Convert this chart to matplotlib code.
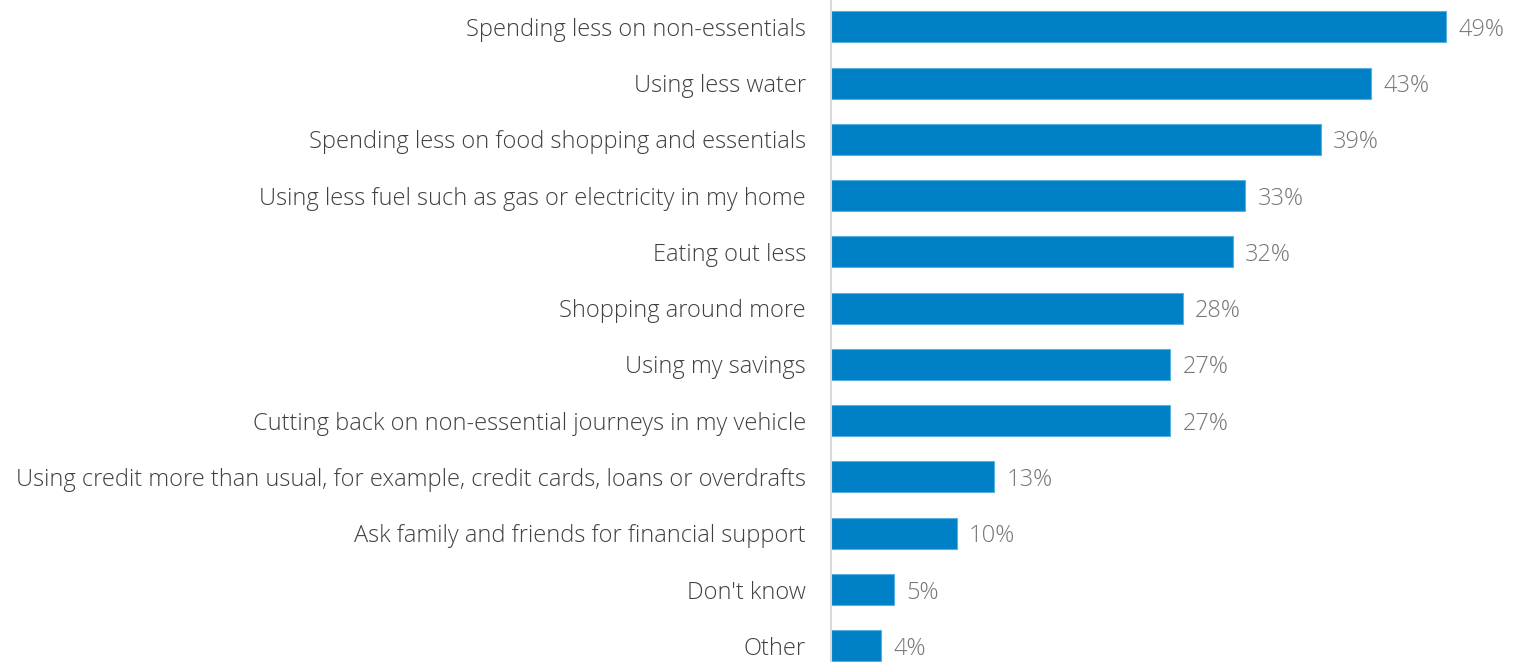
import matplotlib.pyplot as plt

plt.rcParams["font.family"] = ["Open Sans", "DejaVu Sans"]

categories = [
    "Spending less on non-essentials",
    "Using less water",
    "Spending less on food shopping and essentials",
    "Using less fuel such as gas or electricity in my home",
    "Eating out less",
    "Shopping around more",
    "Using my savings",
    "Cutting back on non-essential journeys in my vehicle",
    "Using credit more than usual, for example, credit cards, loans or overdrafts",
    "Ask family and friends for financial support",
    "Don't know",
    "Other",
]
values = [49, 43, 39, 33, 32, 28, 27, 27, 13, 10, 5, 4]

fig = plt.figure(figsize=(15.13, 6.62), dpi=100)
ax = fig.add_axes([831 / 1513, -0.018, 678 / 1513, 1.02])

pos = range(len(categories))
bars = ax.barh(pos, values, height=0.55, color="#0080C6",
               edgecolor="#5aaee0", linewidth=0.8)

# percentage labels just past the end of each bar
for b, v in zip(bars, values):
    ax.text(b.get_width() + 1.0, b.get_y() + b.get_height() / 2, f"{v}%",
            va="center_baseline", ha="left", fontsize=17, color="#767676",
            fontweight="light")

ax.set_yticks(list(pos))
ax.set_yticklabels(categories, fontsize=17, color="#404040", fontweight="light")
ax.tick_params(axis="y", length=0, pad=18)
ax.set_xticks([])
ax.set_xlim(0, 54)
ax.set_ylim(len(categories) - 0.5, -0.5)

for side in ["top", "right", "bottom"]:
    ax.spines[side].set_visible(False)
ax.spines["left"].set_color("#d9d9d9")
ax.spines["left"].set_linewidth(1.5)

fig.savefig("out.png", dpi=100)
